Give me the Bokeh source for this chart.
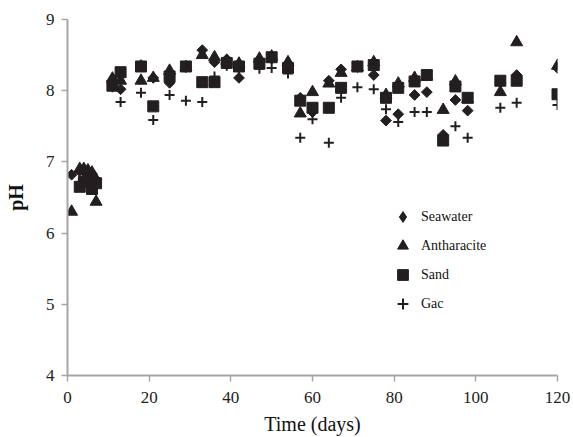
import numpy as np
from bokeh.plotting import figure
from bokeh.models import Range1d, FixedTicker, Legend, LegendItem, ColumnDataSource
from bokeh.embed import file_html
from bokeh.resources import INLINE

# ---- data ----
sea_days = [1, 3, 4, 5, 6, 7, 11, 13, 18, 21, 25, 29, 33, 36, 39, 42, 47, 50, 54, 57,
            60, 64, 67, 71, 75, 78, 81, 85, 88, 92, 95, 98, 106, 110, 120]
sea_ph = [6.82, 6.87, 6.88, 6.88, 6.83, 6.75, 8.10, 8.02, 8.36, 8.18, 8.11, 8.33, 8.57, 8.40,
          8.44, 8.18, 8.40, 8.45, 8.36, 7.90, 7.70, 8.14, 8.30, 8.33, 8.22, 7.58, 7.67, 7.94,
          7.98, 7.38, 7.87, 7.72, 8.12, 8.22, 8.32]

ant_days = [1, 3, 4, 5, 6, 7, 11, 13, 18, 21, 25, 29, 33, 36, 39, 42, 47, 50, 54, 57,
            60, 64, 67, 71, 75, 78, 81, 85, 88, 92, 95, 98, 106, 110, 120]
ant_ph = [6.30, 6.90, 6.90, 6.88, 6.85, 6.44, 8.17, 8.14, 8.14, 8.18, 8.28, 8.33, 8.50, 8.47,
          8.42, 8.38, 8.45, 8.48, 8.40, 7.68, 7.98, 8.10, 8.25, 8.33, 8.40, 7.94, 8.10, 8.18,
          8.20, 7.73, 8.13, 7.88, 7.98, 8.68, 8.35]

sand_days = [3, 4, 5, 6, 7, 11, 13, 18, 21, 25, 29, 33, 36, 39, 42, 47, 50, 54, 57,
             60, 64, 67, 71, 75, 78, 81, 85, 88, 92, 95, 98, 106, 110, 120]
sand_ph = [6.65, 6.72, 6.78, 6.62, 6.70, 8.07, 8.26, 8.34, 7.78, 8.20, 8.34, 8.12, 8.12, 8.39,
           8.34, 8.38, 8.47, 8.32, 7.86, 7.76, 7.76, 8.04, 8.34, 8.36, 7.90, 8.04, 8.13, 8.22,
           7.30, 8.06, 7.90, 8.14, 8.14, 7.95]

gac_days = [3, 4, 5, 6, 11, 13, 18, 21, 25, 29, 33, 36, 39, 42, 47, 50, 54, 57,
            60, 64, 67, 71, 75, 78, 81, 85, 88, 92, 95, 98, 106, 110, 120]
gac_ph = [6.70, 6.75, 6.75, 6.68, 8.05, 7.84, 7.97, 7.59, 7.94, 7.86, 7.84, 8.20, 8.35, 8.30,
          8.31, 8.32, 8.24, 7.34, 7.60, 7.27, 7.90, 8.05, 8.02, 7.74, 7.56, 7.70, 7.70, 7.30,
          7.50, 7.34, 7.76, 7.83, 7.80]

x_ticks = [0, 20, 40, 60, 80, 100, 120]
y_ticks = [4, 5, 6, 7, 8, 9]
series_names = ["Seawater", "Antharacite", "Sand", "Gac"]

INK = "#231f20"
AXIS = "#a6a6a6"
SERIF = "Liberation Serif"

p = figure(width=573, height=437, output_backend="svg", toolbar_location=None,
           x_range=Range1d(0, 120), y_range=Range1d(4, 9),
           min_border_left=67, min_border_right=16, min_border_top=19, min_border_bottom=59)
p.outline_line_color = None
p.xgrid.visible = False
p.ygrid.visible = False
p.background_fill_color = "white"

r_sea = p.scatter(x="x", y="y", source=ColumnDataSource(dict(x=sea_days, y=sea_ph)),
                  marker="square", angle=np.pi / 4, size=7.6, fill_color=INK, line_color=INK)
r_ant = p.scatter(x="x", y="y", source=ColumnDataSource(dict(x=ant_days, y=ant_ph)),
                  marker="triangle", size=12, fill_color=INK, line_color=INK)
r_sand = p.scatter(x="x", y="y", source=ColumnDataSource(dict(x=sand_days, y=sand_ph)),
                   marker="square", size=11, fill_color=INK, line_color=INK)
r_gac = p.scatter(x="x", y="y", source=ColumnDataSource(dict(x=gac_days, y=gac_ph)),
                  marker="cross", size=10, line_color=INK, line_width=2)
# legend-only proxy (NaN, never drawn in the plot) so the key shows a diamond;
# legend glyphs ignore the angle of the rotated-square markers
r_sea_key = p.scatter(x="x", y="y", source=ColumnDataSource(dict(x=[np.nan], y=[np.nan])),
                      marker="diamond", size=11, fill_color=INK, line_color=INK)

for ax in (p.xaxis[0], p.yaxis[0]):
    ax.axis_line_color = AXIS
    ax.axis_line_width = 2
    ax.major_tick_line_color = AXIS
    ax.major_tick_line_width = 1.5
    ax.major_tick_out = 6
    ax.major_tick_in = 0
    ax.minor_tick_line_color = None
    ax.major_label_text_font = SERIF
    ax.major_label_text_font_size = "17px"
    ax.major_label_text_color = "#222222"
    ax.axis_label_text_font = SERIF
    ax.axis_label_text_color = "#111111"

p.xaxis.ticker = FixedTicker(ticks=x_ticks)
p.yaxis.ticker = FixedTicker(ticks=y_ticks)
p.xaxis.axis_label = "Time (days)"
p.yaxis.axis_label = "pH"
p.xaxis.axis_label_text_font_size = "20px"
p.xaxis.axis_label_text_font_style = "normal"
p.yaxis.axis_label_text_font_size = "20px"
p.yaxis.axis_label_text_font_style = "bold"
p.xaxis.major_label_standoff = 10
p.xaxis.axis_label_standoff = 7
p.yaxis.major_label_standoff = 7
p.yaxis.axis_label_standoff = 16

legend = Legend(items=[LegendItem(label=series_names[0], renderers=[r_sea_key]),
                       LegendItem(label=series_names[1], renderers=[r_ant]),
                       LegendItem(label=series_names[2], renderers=[r_sand]),
                       LegendItem(label=series_names[3], renderers=[r_gac])],
                location=(322, 58), border_line_color=None, background_fill_alpha=0,
                padding=0, margin=0, spacing=2, glyph_width=27, glyph_height=27,
                label_height=27, label_standoff=5,
                label_text_font=SERIF, label_text_font_size="14px", label_text_color="#111111")
p.add_layout(legend, "center")

open("out.html", "w").write(file_html(p, INLINE))
